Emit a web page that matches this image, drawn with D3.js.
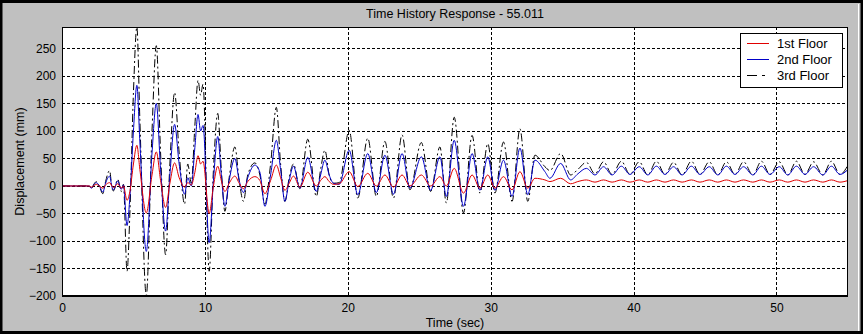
<!DOCTYPE html>
<html>
<head>
<meta charset="utf-8">
<script src="https://cdn.jsdelivr.net/npm/d3@7"></script>
<style>
  html, body { margin: 0; padding: 0; background: #c0c0c0; }
  svg { display: block; }
  text { font-family: "Liberation Sans", Arial, sans-serif; fill: #000; }
</style>
</head>
<body>
<svg id="chart" width="863" height="334"></svg>
<script>
// Time stamps (s) of the sampled response, shared by all three floors
const time = [
  0, 1.9, 2.05, 2.25, 2.4, 2.6, 2.86, 3.05, 3.33, 3.5, 3.6, 3.9, 4.15, 4.3,
  4.55, 4.75, 5.0, 5.24, 5.45, 5.9, 6.3, 6.6, 6.9, 7.25, 7.55, 7.88, 8.2, 8.58,
  8.8, 9.05, 9.3, 9.52, 9.7, 9.87, 10.3, 10.6, 10.9, 11.15, 11.4, 11.7, 12.1,
  12.4, 12.7, 13.0, 13.5, 13.85, 14.2, 14.6, 15.0, 15.3, 15.6, 15.9, 16.2,
  16.65, 17.2, 17.8, 18.1, 18.4, 18.7, 19.0, 19.4, 20.1, 20.7, 21.4, 22.0,
  22.6, 23.2, 23.8, 24.35, 25.15, 25.8, 26.45, 26.9, 27.45, 28.1, 28.7, 29.25,
  29.8, 30.3, 30.9, 31.5, 32.05, 32.6, 33.1, 33.8, 34.15, 34.9, 35.6, 36.1,
  36.7, 37.3, 37.9, 38.5, 39.15, 39.75, 40.4, 41.0, 41.6, 42.2, 42.8, 43.4,
  44.05, 44.65, 45.3, 45.9, 46.5, 47.1, 47.7, 48.35, 48.95, 49.55, 50.2, 50.8,
  51.4, 52.0, 52.6, 53.25, 53.85, 54.45, 55.011
];

// Displacement (mm) of each floor at those times
const floor1 = [
  0, 0, -2, 1, 3, 0, -4, 2, 6, 0, -3, 4, -4, 0,
  -26, -10, 40, 74, 30, -49, 20, 62, 10, -39, 5, 42, 15, -2,
  6, 2, 25, 55, 40, 45, -50, 0, 36, 10, -10, 5, 18,
  5, -5, 8, 17, 10, -14, 10, 38, 15, -8, 5, 18,
  -2, 25, 0, 10, 17, 8, 3, 4, 26, -1, 23, 0,
  20, -2, 20, 0, 20, 0, 17, 0, 32, -13, 20, -4,
  20, -4, 17, -7, 26, -4, 14, 11, 8, 14, 4, 8,
  11, 7, 11, 7, 11, 7, 11, 7, 11, 7, 11, 7,
  11, 7, 11, 7, 11, 7, 11, 7, 11, 7, 11, 7,
  11, 7, 11, 7, 11, 7, 10
];
const floor2 = [
  0, 0, -4, 3, 6, 1, -11, 5, 18, -2, -7, 9, -6, 2,
  -72, -20, 100, 183, 80, -119, 60, 150, 30, -82, 20, 112, 40, -15,
  15, 0, 70, 130, 100, 110, -103, 10, 90, 20, -37, 10, 50,
  10, -12, 15, 38, 25, -37, 20, 83, 30, -28, 10, 36,
  -4, 52, -10, 20, 47, 20, 5, 3, 65, -16, 59, -12,
  56, -15, 59, -4, 53, -8, 53, -19, 83, -37, 59, -8,
  53, -8, 47, -19, 69, -16, 47, 26, 14, 41, 11, 22,
  32, 20, 35, 20, 36, 21, 35, 20, 36, 21, 35, 20,
  36, 21, 35, 20, 36, 21, 35, 20, 36, 21, 35, 20,
  36, 21, 35, 20, 36, 21, 30
];
const floor3 = [
  0, 0, -5, 4, 8, 0, -14, 8, 28, -4, -9, 12, -10, 3,
  -155, -50, 170, 289, 120, -199, 100, 255, 60, -125, 40, 170, 60, -33,
  40, 5, 110, 192, 165, 185, -155, 30, 132, 30, -46, 15, 71,
  10, -28, 20, 42, 20, -33, 40, 143, 40, -28, 15, 40,
  -5, 85, -19, 30, 65, 20, 5, 6, 101, -22, 87, -19,
  81, -22, 93, -7, 79, -10, 71, -31, 125, -49, 92, -13,
  77, -13, 80, -28, 104, -28, 56, 35, 28, 59, 20, 30,
  43, 22, 44, 21, 45, 21, 44, 20, 45, 21, 43, 20,
  45, 21, 44, 20, 44, 21, 44, 20, 45, 21, 44, 20,
  45, 21, 44, 20, 45, 21, 38
];

const seriesNames = ["1st Floor", "2nd Floor", "3rd Floor"];
const xTicks = [0, 10, 20, 30, 40, 50];
const yTicks = [-200, -150, -100, -50, 0, 50, 100, 150, 200, 250];

const W = 863, H = 334;
const plot = { left: 62, right: 848, top: 27, bottom: 296 };

const svg = d3.select("#chart");

// window background and frame
svg.append("rect").attr("x", 0).attr("y", 0).attr("width", W).attr("height", H).attr("fill", "#c0c0c0");
svg.append("rect").attr("x", 1).attr("y", 1.5).attr("width", W - 2).attr("height", H - 3)
  .attr("fill", "none").attr("stroke", "#000").attr("stroke-width", 3);
svg.append("line").attr("x1", 858.5).attr("x2", 858.5).attr("y1", 4).attr("y2", 331)
  .attr("stroke", "#fff").attr("stroke-width", 1);

const x = d3.scaleLinear().domain([0, 55.011]).range([plot.left, plot.right]);
const y = d3.scaleLinear().domain([-200, 289]).range([plot.bottom, plot.top]);

// axes background
svg.append("rect")
  .attr("x", plot.left).attr("y", plot.top)
  .attr("width", plot.right - plot.left).attr("height", plot.bottom - plot.top)
  .attr("fill", "#fff");

// grid
const grid = svg.append("g").attr("stroke", "#000").attr("stroke-width", 1)
  .attr("stroke-dasharray", "3,2").attr("shape-rendering", "crispEdges");
grid.selectAll("line.gx").data(xTicks).join("line")
  .attr("x1", d => Math.round(x(d)) + 0.5).attr("x2", d => Math.round(x(d)) + 0.5)
  .attr("y1", plot.top).attr("y2", plot.bottom);
grid.selectAll("line.gy").data(yTicks).join("line")
  .attr("y1", d => Math.round(y(d)) + 0.5).attr("y2", d => Math.round(y(d)) + 0.5)
  .attr("x1", plot.left).attr("x2", plot.right);

// data lines
const pts = arr => time.map((t, i) => [t, arr[i]]);
const line = d3.line().x(d => x(d[0])).y(d => y(d[1])).curve(d3.curveMonotoneX);
const clip = svg.append("clipPath").attr("id", "clip").append("rect")
  .attr("x", plot.left).attr("y", plot.top)
  .attr("width", plot.right - plot.left).attr("height", plot.bottom - plot.top);

const series = [
  { name: seriesNames[0], data: floor1, color: "#e00000", dash: null },
  { name: seriesNames[1], data: floor2, color: "#0000c8", dash: null },
  { name: seriesNames[2], data: floor3, color: "#000000", dash: "8,3,2,3" }
];
const lines = svg.append("g").attr("clip-path", "url(#clip)");
[series[2], series[1], series[0]].forEach(s => {
  lines.append("path").attr("d", line(pts(s.data)))
    .attr("fill", "none").attr("stroke", s.color).attr("stroke-width", 1)
    .attr("stroke-dasharray", s.dash);
});

// axes box
svg.append("rect")
  .attr("x", plot.left + 0.5).attr("y", plot.top + 0.5)
  .attr("width", plot.right - plot.left - 1).attr("height", plot.bottom - plot.top - 1)
  .attr("fill", "none").attr("stroke", "#000").attr("stroke-width", 1)
  .attr("shape-rendering", "crispEdges");
svg.append("line").attr("x1", plot.left).attr("x2", plot.right)
  .attr("y1", plot.bottom).attr("y2", plot.bottom)
  .attr("stroke", "#000").attr("stroke-width", 2).attr("shape-rendering", "crispEdges");

// tick labels via d3 axes
const xAxis = d3.axisBottom(x).tickValues(xTicks).tickFormat(d3.format("d")).tickSize(0).tickPadding(7);
const gx = svg.append("g").attr("transform", `translate(0,${plot.bottom})`).call(xAxis);
gx.select(".domain").remove();
gx.selectAll("text").attr("font-size", 12).attr("font-family", "Liberation Sans, Arial, sans-serif").attr("fill", "#000");

const yAxis = d3.axisLeft(y).tickValues(yTicks).tickFormat(d3.format("d")).tickSize(0).tickPadding(6);
const gy = svg.append("g").attr("transform", `translate(${plot.left},0)`).call(yAxis);
gy.select(".domain").remove();
gy.selectAll("text").attr("font-size", 12).attr("font-family", "Liberation Sans, Arial, sans-serif").attr("fill", "#000");

// titles
svg.append("text").attr("x", (plot.left + plot.right) / 2).attr("y", 18)
  .attr("text-anchor", "middle").attr("font-size", 12.5)
  .text("Time History Response - 55.011");
svg.append("text").attr("x", (plot.left + plot.right) / 2).attr("y", 327)
  .attr("text-anchor", "middle").attr("font-size", 12.5)
  .text("Time (sec)");
svg.append("text").attr("transform", `translate(24,${(plot.top + plot.bottom) / 2}) rotate(-90)`)
  .attr("text-anchor", "middle").attr("font-size", 12.5)
  .text("Displacement (mm)");

// legend
const lg = svg.append("g").attr("transform", "translate(740,33)");
lg.append("rect").attr("x", 0.5).attr("y", 0.5).attr("width", 102).attr("height", 54)
  .attr("fill", "#fff").attr("stroke", "#000").attr("stroke-width", 1);
series.forEach((s, i) => {
  const yy = 10.5 + i * 16;
  lg.append("line").attr("x1", 7).attr("x2", 29).attr("y1", yy).attr("y2", yy)
    .attr("stroke", s.color).attr("stroke-width", 1)
    .attr("stroke-dasharray", s.dash ? "10,5,3,5" : null);
  lg.append("text").attr("x", 37).attr("y", yy).attr("dy", "0.35em")
    .attr("font-size", 13).text(s.name);
});
</script>
</body>
</html>
